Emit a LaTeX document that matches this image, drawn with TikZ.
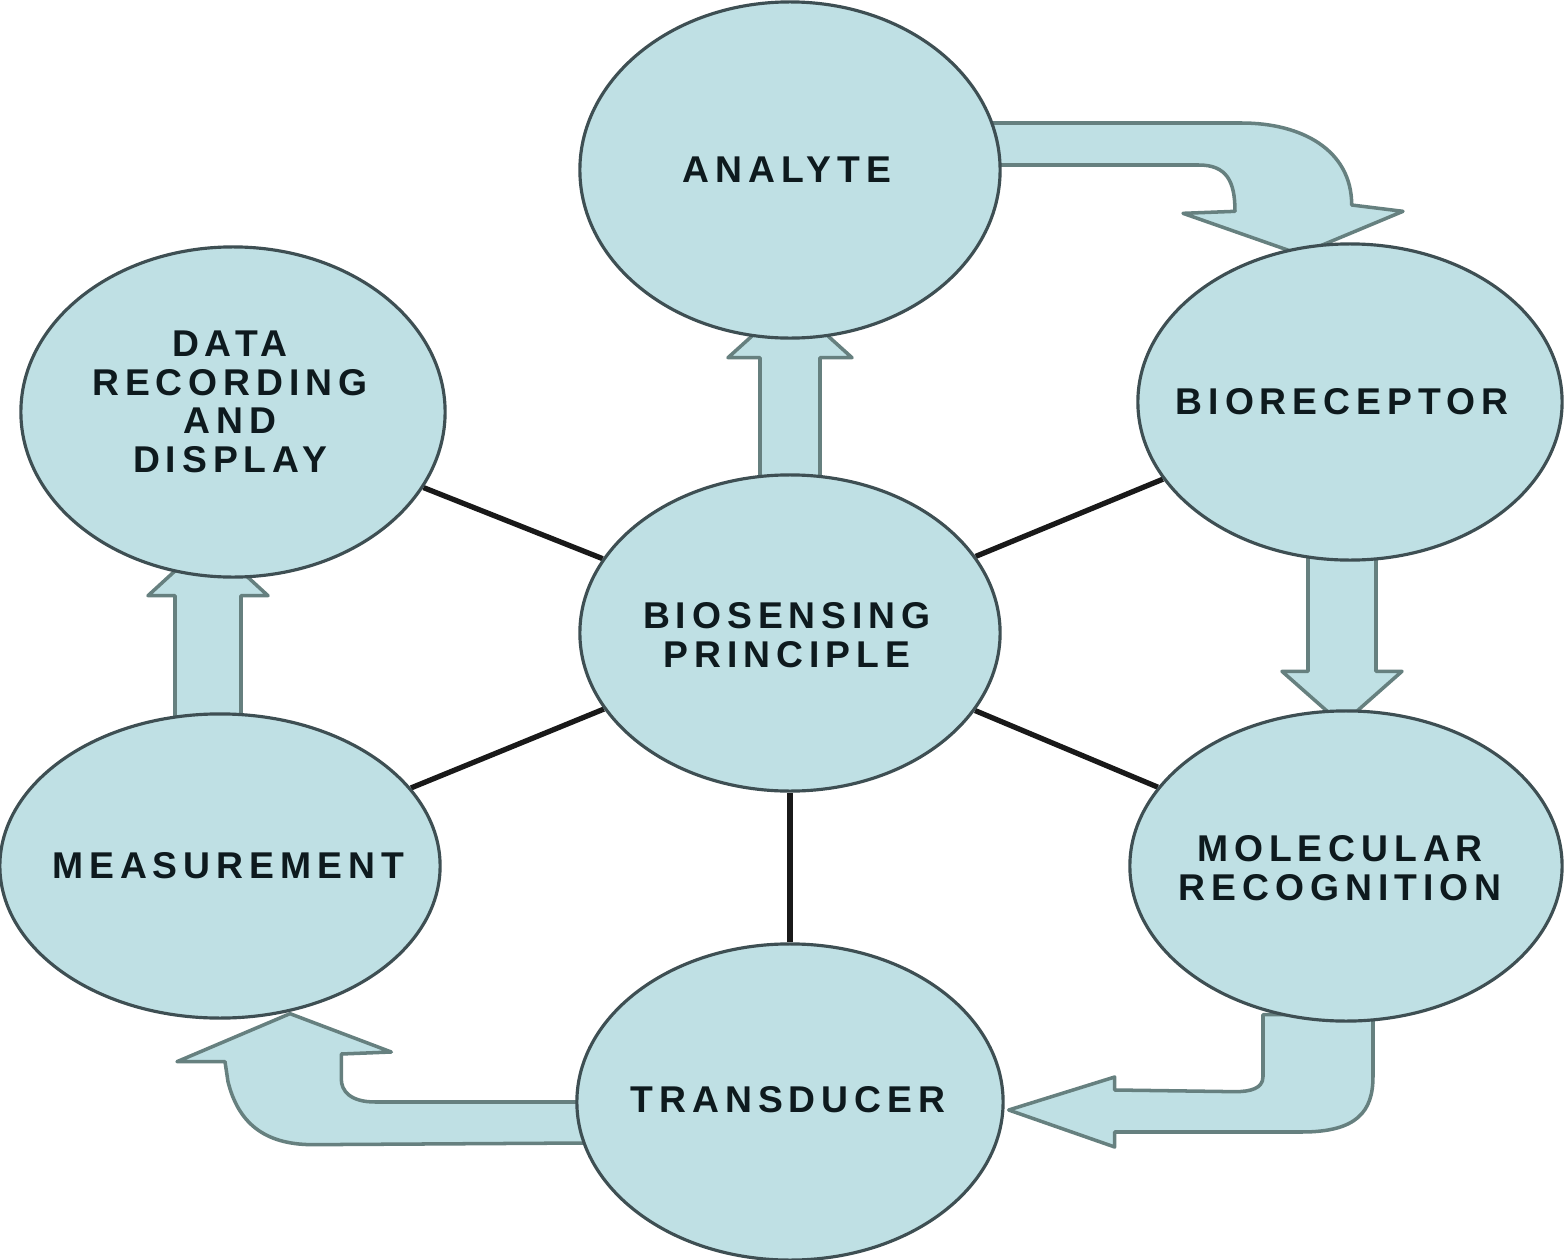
\documentclass[tikz,border=0pt]{standalone}
\usepackage{fontspec}
\newfontfamily\capsfont[LetterSpace=16]{Liberation Sans}
\usepackage{tikz}
\usetikzlibrary{shapes.geometric, calc, backgrounds}
\definecolor{Ink}{HTML}{0E1A1E}
\definecolor{Rim}{HTML}{3E4F53}
\definecolor{Pale}{HTML}{BFE0E4}
\definecolor{FlowRim}{HTML}{66807F}

\begin{document}
\begin{tikzpicture}[
  x=0.01cm, y=-0.01cm,
  bubble/.style={ellipse, draw=Rim, line width=0.9pt, fill=Pale, inner sep=0pt},
  word/.style={font=\capsfont\bfseries\fontsize{10.6}{11}\selectfont, text=Ink, align=center, inner sep=0pt},
  spoke/.style={line width=1.5pt, draw=black!90},
  flow/.style={draw=FlowRim, line width=1pt, fill=Pale, line join=round}
]
\useasboundingbox (0,0) rectangle (1568,1260);

% ellipses
\node[bubble, minimum width=4.2cm, minimum height=3.36cm] (analyte) at (790,170) {};
\node[bubble, minimum width=4.24cm, minimum height=3.3cm] (data) at (233,412) {};
\node[bubble, minimum width=4.24cm, minimum height=3.16cm] (biorec) at (1350,402) {};
\node[bubble, minimum width=4.2cm, minimum height=3.16cm] (biosens) at (790,633) {};
\node[bubble, minimum width=4.4cm, minimum height=3.04cm] (meas) at (220,866) {};
\node[bubble, minimum width=4.32cm, minimum height=3.1cm] (molrec) at (1346,866) {};
\node[bubble, minimum width=4.26cm, minimum height=3.16cm] (trans) at (790,1102) {};

% texts
\node[word] (analyte-t) at ($(analyte)+(-3,0)$) {ANALYTE};
\node[word] (data-t) at ($(data)+(-3,-10)$) {DATA\\RECORDING\\AND\\DISPLAY};
\node[word] (biorec-t) at ($(biorec)+(-8,0)$) {BIORECEPTOR};
\node[word] (biosens-t) at ($(biosens)+(-3,2)$) {BIOSENSING\\PRINCIPLE};
\node[word] (meas-t) at ($(meas)+(8,0)$) {MEASUREMENT};
\node[word] (molrec-t) at ($(molrec)+(-6,2)$) {MOLECULAR\\RECOGNITION};
\node[word] (trans-t) at ($(trans)+(-2,-2)$) {TRANSDUCER};

\begin{scope}[on background layer]
% spokes
\draw[spoke] (data) -- (biosens);
\draw[spoke] (meas) -- (biosens);
\draw[spoke] (biorec) -- (biosens);
\draw[spoke] (molrec) -- (biosens);
\draw[spoke] (trans) -- (biosens);

% straight block arrows
\draw[flow] ($(biosens.north)+(-30,8)$) -- ($(analyte.south)+(-30,18)$) -- ($(analyte.south)+(-62,18)$)
  -- ($(analyte.south)+(0,-38)$) -- ($(analyte.south)+(62,18)$) -- ($(analyte.south)+(30,18)$)
  -- ($(biosens.north)+(30,8)$) -- cycle;
\draw[flow] ($(meas.north)+(-45,6)$) -- ($(data.south)+(-58,17)$) -- ($(data.south)+(-85,17)$)
  -- ($(data.south)+(-25,-38)$) -- ($(data.south)+(35,17)$) -- ($(data.south)+(8,17)$)
  -- ($(meas.north)+(21,6)$) -- cycle;
\draw[flow] ($(biorec.south)+(-42,-6)$) -- ($(molrec.north)+(-38,-38)$) -- ($(molrec.north)+(-64,-38)$)
  -- ($(molrec.north)+(-4,15)$) -- ($(molrec.north)+(56,-38)$) -- ($(molrec.north)+(30,-38)$)
  -- ($(biorec.south)+(26,-6)$) -- cycle;

% bent block arrows
\draw[flow] ($(analyte.east)+(-15,-47)$) -- ++(255,0)
  .. controls +(60,0) and +(0,-55) .. ++(110,82)
  -- ($(biorec.north)+(53,-31)$) -- ($(biorec.north)+(-50,12)$) -- ($(biorec.north)+(-167,-29)$)
  -- ++(52,-2) .. controls +(0,-30) and +(28,0) .. ($(analyte.east)+(197,-5)$)
  -- ($(analyte.east)+(-15,-5)$) -- cycle;
\draw[flow] ($(molrec.south)+(-83,-8)$) -- ++(0,62)
  .. controls +(0,12) and +(15,0) .. ++(-28,15)
  -- ($(trans.east)+(110,-12)$) -- ++(0,-13) -- ($(trans.east)+(4,8)$) -- ($(trans.east)+(110,45)$)
  -- ++(0,-15) -- ++(187,0) .. controls +(55,0) and +(0,35) .. ($(molrec.south)+(27,54)$)
  -- ($(molrec.south)+(27,-8)$) -- cycle;
\draw[flow] ($(trans.west)+(10,0)$) -- ++(-210,0)
  .. controls +(-25,0) and +(0,12) .. ++(-34,-23)
  -- ++(0,-25) -- ++(50,-2) -- ($(meas.south)+(70,-6)$) -- ($(meas.south)+(-43,42)$)
  -- ++(48,0) -- ++(3,20) .. controls +(10,40) and +(-50,0) .. ++(85,63)
  -- ($(trans.west)+(10,41)$) -- cycle;
\end{scope}
\end{tikzpicture}
\end{document}
